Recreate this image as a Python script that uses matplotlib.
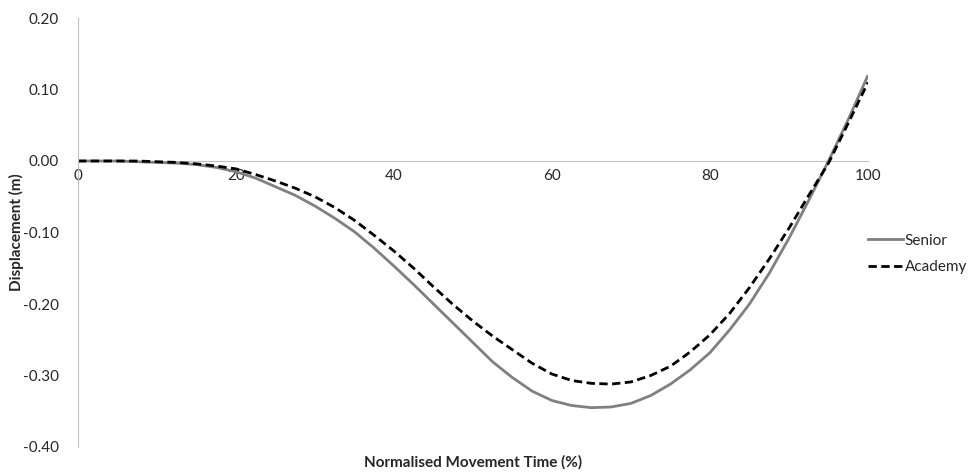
import matplotlib
matplotlib.use("Agg")
import matplotlib.pyplot as plt
from matplotlib.lines import Line2D

plt.rcParams['font.family'] = ['Lato', 'DejaVu Sans']

time_pct = [0, 2.5, 5, 7.5, 10, 12.5, 15, 17.5, 20, 22.5, 25, 27.5, 30, 32.5, 35, 37.5, 40,
            42.5, 45, 47.5, 50, 52.5, 55, 57.5, 60, 62.5, 65, 67.5, 70, 72.5, 75, 77.5, 80,
            82.5, 85, 87.5, 90, 92.5, 95, 97.5, 100]
senior = [0.000, 0.000, 0.000, -0.001, -0.002, -0.003, -0.005, -0.009, -0.015, -0.024, -0.036,
          -0.048, -0.063, -0.080, -0.099, -0.122, -0.147, -0.173, -0.200, -0.227, -0.254, -0.281,
          -0.303, -0.322, -0.335, -0.342, -0.345, -0.344, -0.339, -0.328, -0.312, -0.292, -0.268,
          -0.236, -0.200, -0.157, -0.108, -0.055, 0.000, 0.058, 0.120]
academy = [0.000, 0.000, 0.000, 0.000, -0.001, -0.002, -0.004, -0.007, -0.011, -0.019, -0.028,
           -0.038, -0.050, -0.065, -0.083, -0.104, -0.126, -0.150, -0.176, -0.201, -0.224, -0.245,
           -0.264, -0.283, -0.298, -0.307, -0.311, -0.312, -0.309, -0.300, -0.287, -0.267, -0.243,
           -0.213, -0.177, -0.137, -0.094, -0.048, -0.003, 0.053, 0.110]
xticks = [0, 20, 40, 60, 80, 100]
yticks = [-0.40, -0.30, -0.20, -0.10, 0.00, 0.10, 0.20]

fig = plt.figure(figsize=(9.74, 4.72), dpi=100)
ax = fig.add_axes([78/974, 1-447/472, (868-78)/974, (447-18)/472])

ax.plot(time_pct, senior, color='#808080', lw=2.0, solid_capstyle='butt', solid_joinstyle='round')
ax.plot(time_pct, academy, color='black', lw=2.0, dashes=(3, 1.6))

ax.set_xlim(0, 100)
ax.set_ylim(-0.40, 0.20)
ax.set_xticks(xticks)
ax.set_yticks(yticks)
ax.set_yticklabels([f"{v:.2f}" for v in yticks])
ax.set_xticklabels([str(v) for v in xticks])

for s in ['top', 'right']:
    ax.spines[s].set_visible(False)
ax.spines['bottom'].set_position(('data', 0))
ax.spines['bottom'].set_color('#bfbfbf')
ax.spines['left'].set_color('#bfbfbf')
ax.spines['bottom'].set_zorder(0)
ax.tick_params(axis='both', length=0, labelsize=11, colors='#262626')
ax.tick_params(axis='y', pad=14)
ax.tick_params(axis='x', pad=6)

fig.text(473/974, 1-462/472, 'Normalised Movement Time (%)', ha='center', va='center',
         fontsize=11, fontweight='bold', color='#262626')
fig.text(16/974, 1-232/472, 'Displacement (m)', ha='center', va='center', rotation=90,
         fontsize=11, fontweight='bold', color='#262626')

handles = [Line2D([], [], color='#808080', lw=2.0),
           Line2D([], [], color='black', lw=2.0, dashes=(3, 1.6))]
leg = fig.legend(handles, ['Senior', 'Academy'], loc='center left',
                 bbox_to_anchor=(868/974, 1-254/472), frameon=False, fontsize=11,
                 handlelength=2.3, handletextpad=0.1, labelspacing=0.85,
                 borderpad=0.0, borderaxespad=0.0)
for t in leg.get_texts():
    t.set_color('#262626')

fig.savefig('out.png', dpi=100)
